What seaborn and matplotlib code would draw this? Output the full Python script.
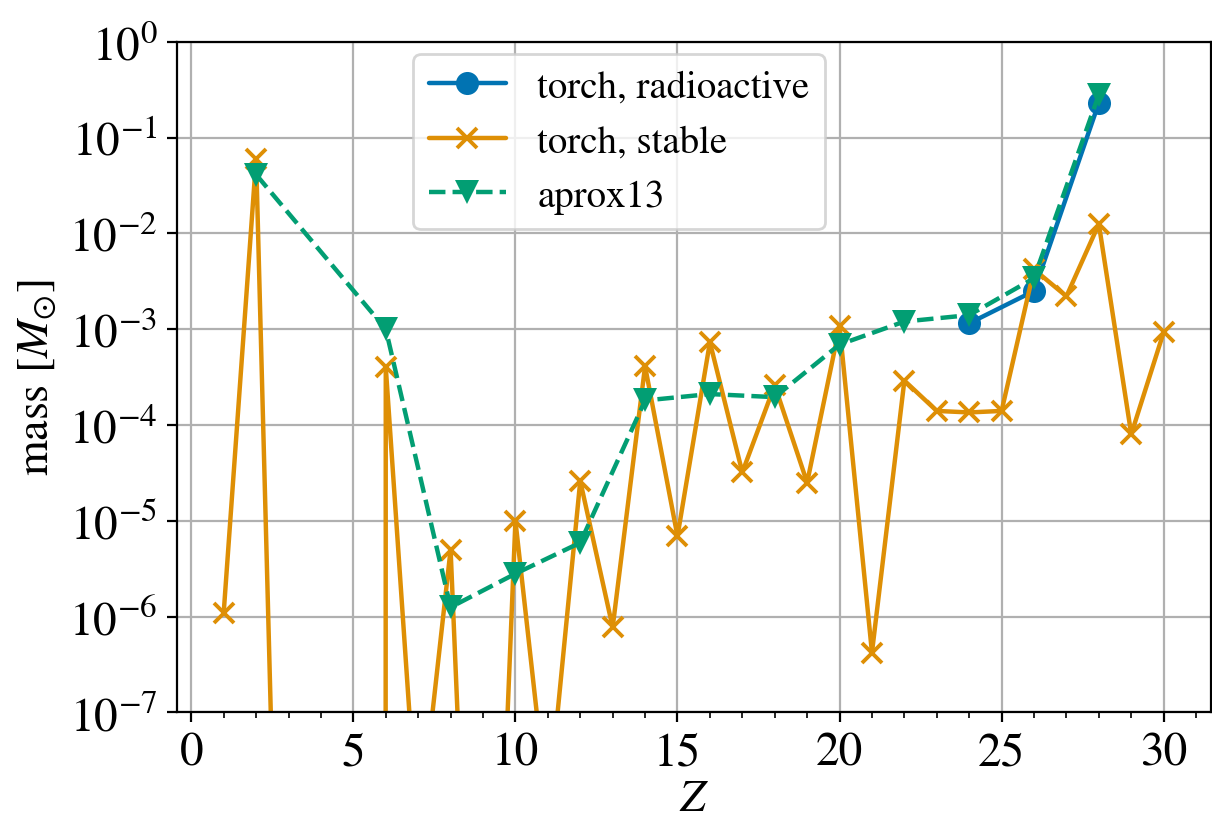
import numpy as np
import pandas as pd
import matplotlib
matplotlib.use("Agg")
import matplotlib.pyplot as plt
import matplotlib.ticker as mticker
import seaborn as sns

# ---- data ----
Z_stable = list(range(1, 31))
m_stable = [1.1e-6, 6.0e-2, 1e-14, 0.0, 0.0, 4.0e-4, 4.5e-9, 5.0e-6, 5e-14, 1.0e-5,
            9.0e-9, 2.6e-5, 7.7e-7, 4.1e-4, 6.9e-6, 7.3e-4, 3.2e-5, 2.6e-4, 2.5e-5, 1.07e-3,
            4.2e-7, 2.9e-4, 1.4e-4, 1.35e-4, 1.4e-4, 4.2e-3, 2.2e-3, 1.25e-2, 8.0e-5, 9.3e-4]

Z_radio = [24, 26, 28]
m_radio = [1.15e-3, 2.5e-3, 0.23]

Z_aprox = [2, 6, 8, 10, 12, 14, 16, 18, 20, 22, 24, 26, 28]
m_aprox = [4.1e-2, 1.0e-3, 1.25e-6, 2.8e-6, 5.9e-6, 1.8e-4, 2.1e-4, 1.95e-4, 6.9e-4,
           1.2e-3, 1.4e-3, 3.4e-3, 0.28]

labels = ["torch, radioactive", "torch, stable", "aprox13"]

# ---- style ----
sns.set_style("ticks")
plt.rcParams["font.family"] = ["STIXGeneral", "Liberation Serif", "DejaVu Serif"]
plt.rcParams["mathtext.fontset"] = "stix"
for k in ["text.color", "axes.labelcolor", "xtick.color", "ytick.color", "axes.edgecolor"]:
    plt.rcParams[k] = "black"

pal = sns.color_palette("colorblind")
c_blue, c_orange, c_green = pal[0], pal[1], pal[2]

fig, ax = plt.subplots(figsize=(6.06, 4.145), dpi=200)
fig.subplots_adjust(left=0.1458, right=0.9989, top=0.9485, bottom=0.1395)

ax.grid(True, color="#b0b0b0", linewidth=0.8, zorder=0)
ax.set_axisbelow(True)

df_r = pd.DataFrame({"Z": Z_radio, "m": m_radio})
df_s = pd.DataFrame({"Z": Z_stable, "m": m_stable})
df_a = pd.DataFrame({"Z": Z_aprox, "m": m_aprox})

sns.lineplot(data=df_r, x="Z", y="m", ax=ax, color=c_blue, marker="o",
             markersize=8.3, markeredgewidth=0, linewidth=1.6, label=labels[0],
             estimator=None, sort=False)
sns.lineplot(data=df_s, x="Z", y="m", ax=ax, color=c_orange, marker="x",
             markersize=7.3, markeredgewidth=1.4, markeredgecolor=c_orange,
             linewidth=1.6, label=labels[1], estimator=None, sort=False)
sns.lineplot(data=df_a, x="Z", y="m", ax=ax, color=c_green, marker="v",
             markersize=8.8, markeredgewidth=0, linewidth=1.6, linestyle="--",
             label=labels[2], estimator=None, sort=False)

ax.set_yscale("log")
ax.set_ylim(1e-7, 1)
ax.set_xlim(-0.45, 31.45)
ax.yaxis.set_major_locator(mticker.LogLocator(base=10, numticks=20))
ax.yaxis.set_minor_locator(mticker.NullLocator())
ax.xaxis.set_major_locator(mticker.MultipleLocator(5))
ax.xaxis.set_minor_locator(mticker.MultipleLocator(1))

ax.tick_params(axis="both", which="major", labelsize=17, length=3.5, width=0.8,
               direction="out", color="black", labelcolor="black")
ax.tick_params(axis="x", which="minor", length=2, width=0.6)
for sp in ax.spines.values():
    sp.set_color("black")
    sp.set_linewidth(0.8)
    sp.set_visible(True)

ax.set_xlabel("$Z$", fontsize=16.5, labelpad=1.5)
ax.set_ylabel(r"mass [$M_{\odot}$]", fontsize=16.5, labelpad=4)

leg = ax.legend(loc="upper left", bbox_to_anchor=(0.2285, 0.982), borderaxespad=0,
                fontsize=14, frameon=True, fancybox=True, framealpha=0.8,
                edgecolor="#cccccc")

fig.savefig("out.png", dpi=200)
